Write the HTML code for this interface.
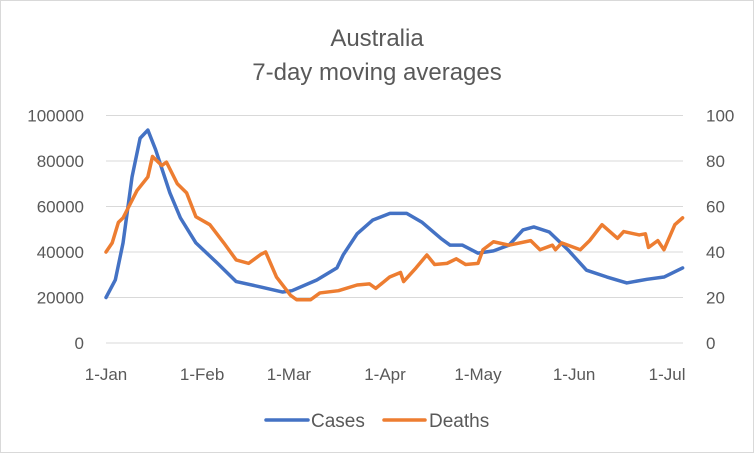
<!DOCTYPE html>
<html><head><meta charset="utf-8"><style>
body{margin:0;background:#fff}
svg{display:block;font-family:"Liberation Sans",Arial,sans-serif}
</style></head><body>
<svg id="chart" width="754" height="453" viewBox="0 0 754 453">
<rect x="0.5" y="0.5" width="753" height="452" fill="#fff" stroke="#d9d9d9"/>
<text x="377" y="46" text-anchor="middle" font-size="24" fill="#595959">Australia</text>
<text x="377" y="80" text-anchor="middle" font-size="24" fill="#595959">7-day moving averages</text>
<g id="grid"></g><g id="axes"></g><g id="series"></g>
<g>
<line x1="266" y1="420" x2="308" y2="420" stroke="#4472c4" stroke-width="3.5" stroke-linecap="round"/>
<text x="311" y="427" font-size="19" fill="#595959">Cases</text>
<line x1="384" y1="420" x2="425" y2="420" stroke="#ed7d31" stroke-width="3.5" stroke-linecap="round"/>
<text x="429" y="427" font-size="19" fill="#595959">Deaths</text>
</g>
</svg>
<script>
const caseDays=[0,3,5.5,8.4,11,13.5,16,20.6,24,29,36,42,50,57,60,68,74.5,76.5,81,86,91.6,97,102,108,111,115,120,125,130,134.5,138,143,149,155,161.6,168,174.5,180,186];
const caseValues=[20000,27700,44000,73000,90000,93600,85000,66000,55000,44000,35000,27000,24600,22400,23000,27700,33000,38700,48000,54000,57000,57000,53000,46000,43000,43000,39500,40500,43000,49700,51000,48800,41000,32000,29000,26400,28000,29000,33000];
const deathDays=[0,2,4,5.5,10,13.5,15,18,19.5,23,26,29,33.5,38,42,46,50,51.5,55,59.5,61.5,66,69,75,81,85,87,91.5,95,96,100,103.5,106,110,113,116,120,121.6,125,130,137,140,144,145,147,153,156,160,165,167,172,174,175,178,180,183.5,186];
const deathValues=[40,44,53,55,67,73,82,78,79.5,70,66,55.5,52,44,36.5,35,39,40,29,21,19,19,22,23,25.5,26,24,29,31,27,33,38.7,34.5,35,37,34.5,35,41,44.5,43,45,41,43,41,44,41,45,52,46,49,47.5,48,42,45,41,52,55];
const xTickLabels=["1-Jan","1-Feb","1-Mar","1-Apr","1-May","1-Jun","1-Jul"];
const xTickDays=[0,31,59,90,120,151,181];
const leftTicks=[0,20000,40000,60000,80000,100000];
const rightTicks=[0,20,40,60,80,100];
const NS="http://www.w3.org/2000/svg";
const X0=106,PX=3.1,Y0=343,YT=115.5;
const xs=d=>X0+d*PX;
const yL=v=>Y0-(v/100000)*(Y0-YT);
const yR=v=>Y0-(v/100)*(Y0-YT);
function mk(tag,attrs,parent){const e=document.createElementNS(NS,tag);for(const k in attrs)e.setAttribute(k,attrs[k]);parent.appendChild(e);return e;}
const grid=document.getElementById('grid'),axes=document.getElementById('axes'),series=document.getElementById('series');
leftTicks.forEach((t,i)=>{
 const y=yL(t);
 const g=mk('line',{x1:106,x2:683,y1:y,y2:y,stroke:'#d9d9d9','stroke-width':1},grid);
 
 
 const l=mk('text',{x:84,y:y+6,'text-anchor':'end','font-size':17,fill:'#595959'},axes);
 l.textContent=t;
 
 
 const r=mk('text',{x:706,y:yR(rightTicks[i])+6,'font-size':17,fill:'#595959'},axes);
 r.textContent=rightTicks[i];
 
 
});
xTickLabels.forEach((lab,i)=>{
 const t=mk('text',{x:xs(xTickDays[i]),y:380,'text-anchor':'middle','font-size':17,fill:'#595959'},axes);
 t.textContent=lab;
 
 
});
const cp=mk('polyline',{points:caseDays.map((d,i)=>xs(d)+','+yL(caseValues[i])).join(' '),fill:'none',stroke:'#4472c4','stroke-width':3.5,'stroke-linejoin':'round','stroke-linecap':'round'},series);


const dp=mk('polyline',{points:deathDays.map((d,i)=>xs(d)+','+yR(deathValues[i])).join(' '),fill:'none',stroke:'#ed7d31','stroke-width':3.5,'stroke-linejoin':'round','stroke-linecap':'round'},series);


</script>
</body></html>
